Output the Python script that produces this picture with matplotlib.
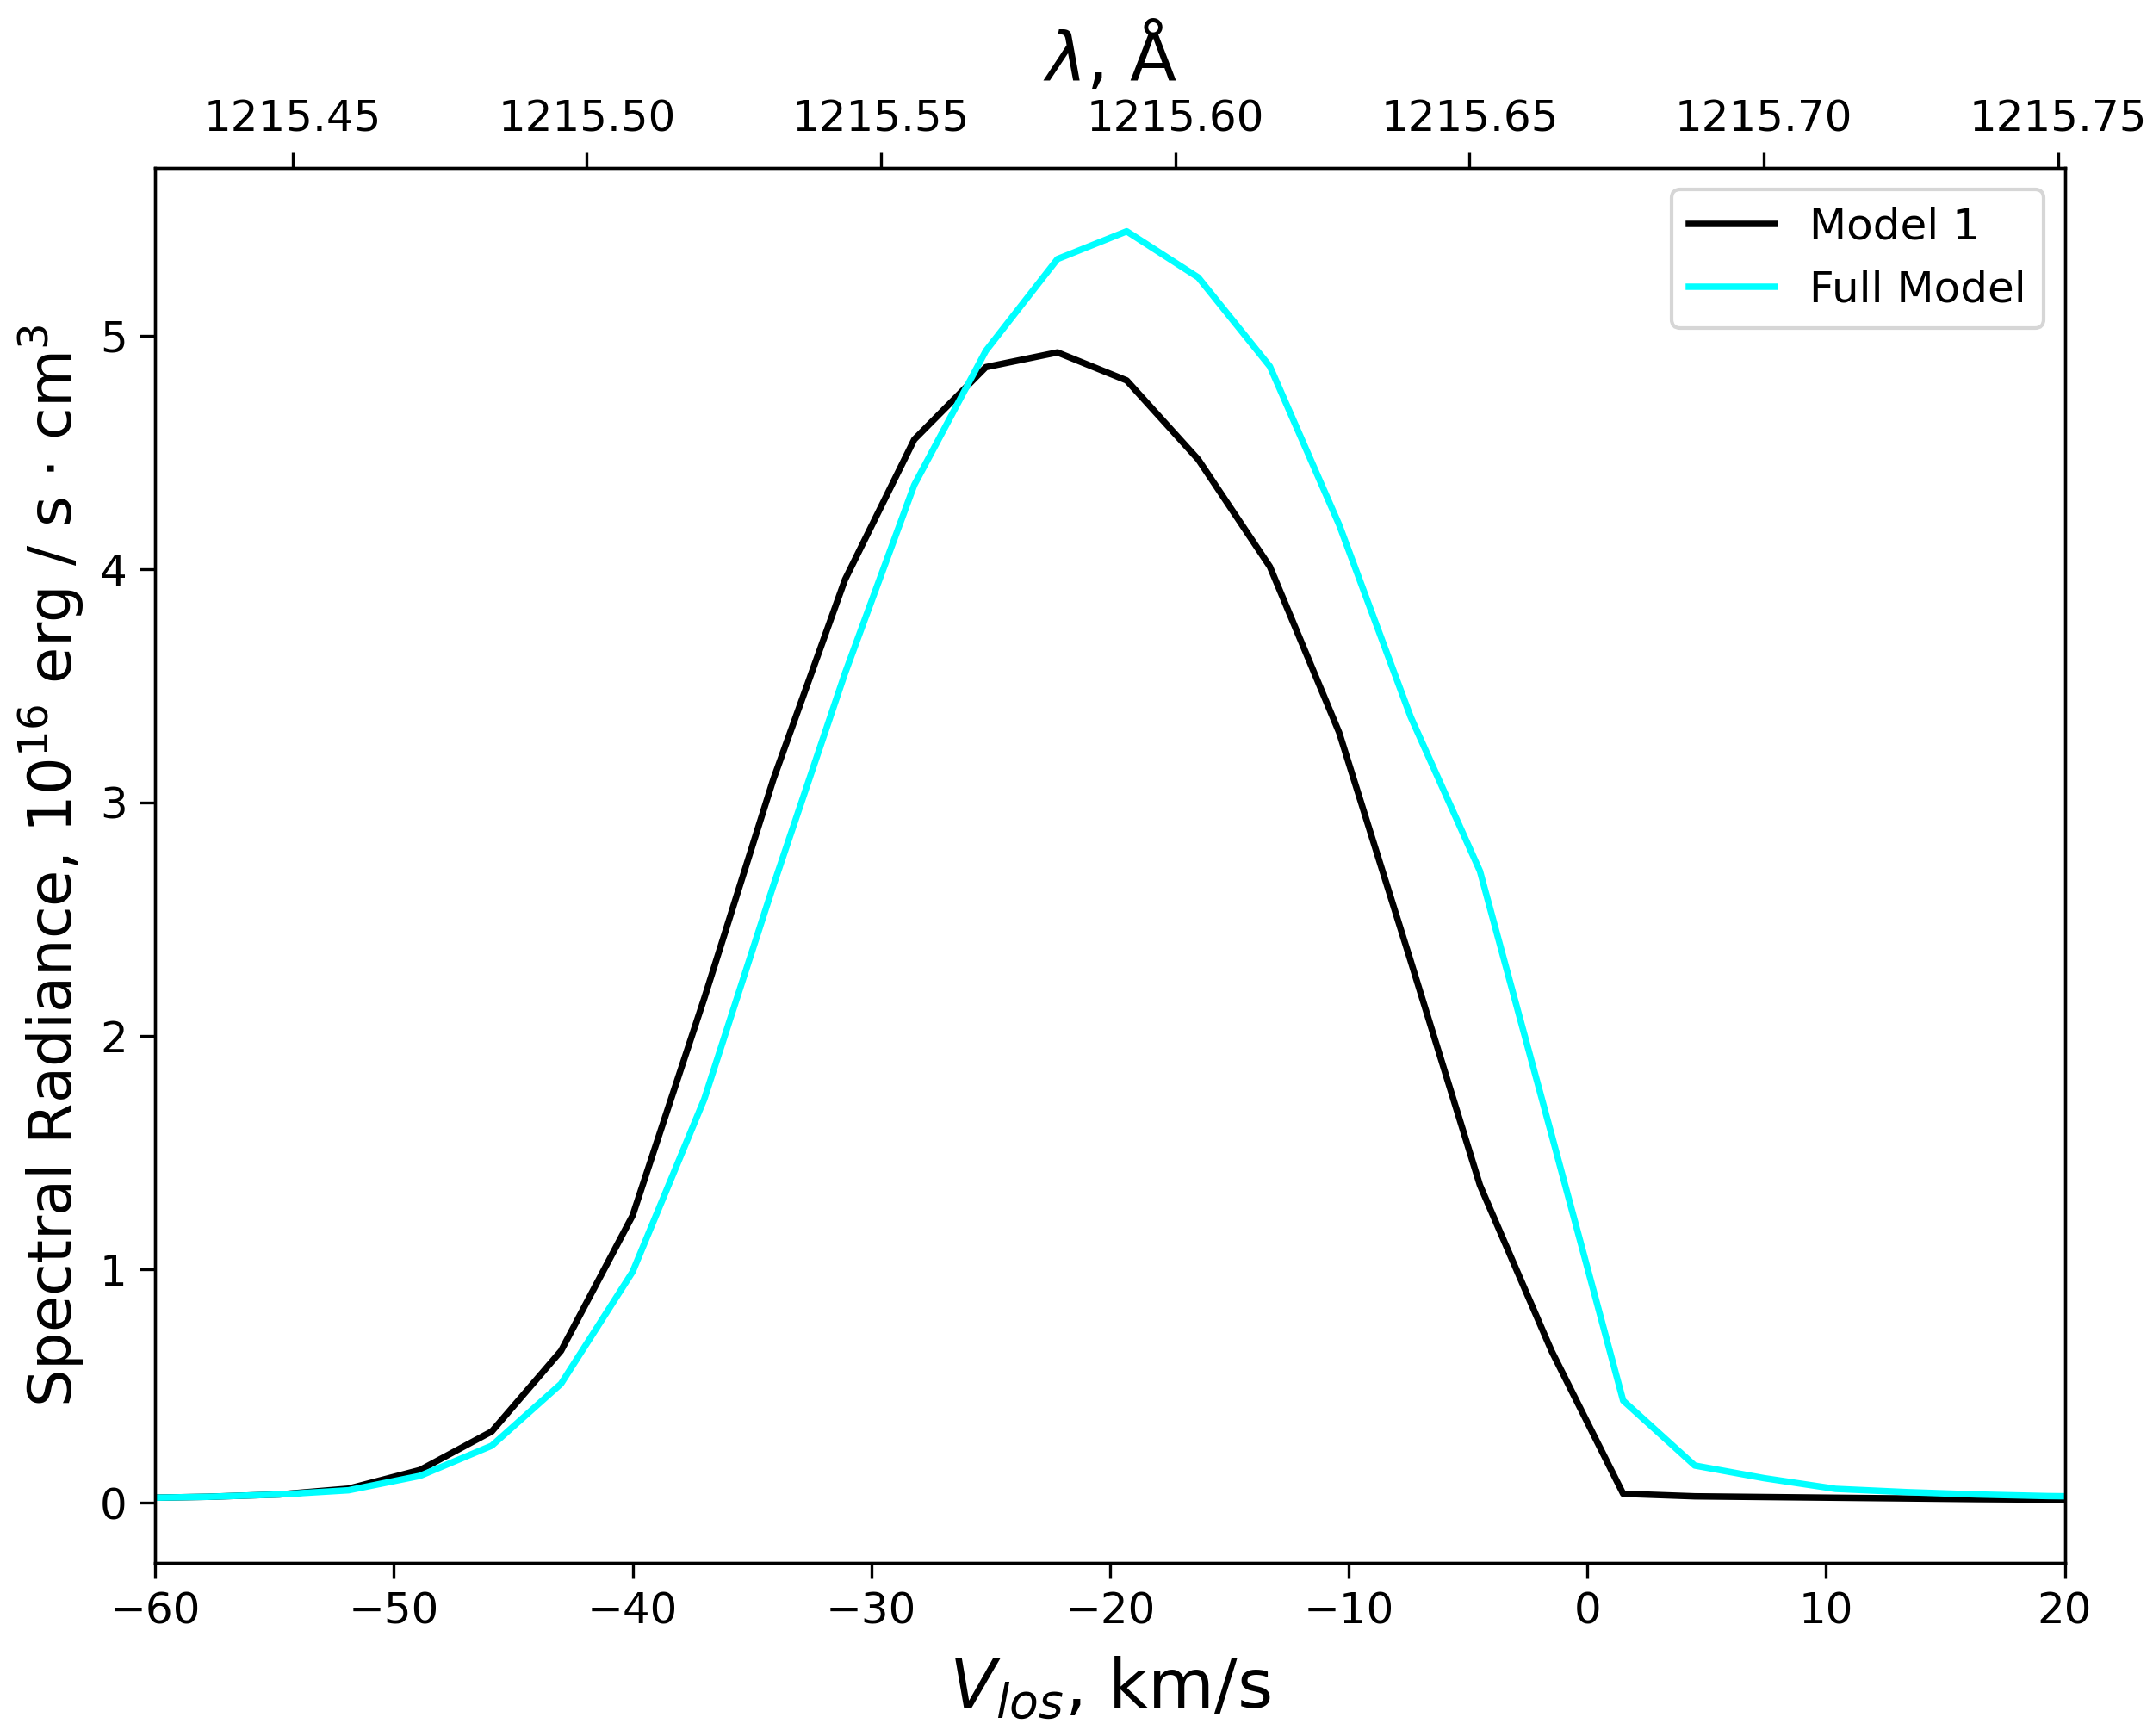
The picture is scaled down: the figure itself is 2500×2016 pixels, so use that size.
import numpy as np
import matplotlib
matplotlib.use('Agg')
import matplotlib.pyplot as plt

# line-of-sight velocity grid, km/s
v_los = [-60.7, -57.8, -54.8, -51.9, -48.9, -45.9, -43.0, -40.0, -37.0, -34.1,
         -31.1, -28.2, -25.2, -22.2, -19.3, -16.3, -13.3, -10.4, -7.4, -4.5,
         -1.5, 1.5, 4.5, 7.4, 10.4, 13.4, 16.3, 19.3, 22.3]

# spectral radiance, 1e16 erg / s cm^3
model_1 = [0.020, 0.025, 0.035, 0.060, 0.140, 0.305, 0.650, 1.230, 2.160, 3.100,
           3.955, 4.555, 4.865, 4.928, 4.808, 4.469, 4.010, 3.300, 2.320, 1.360,
           0.650, 0.038, 0.027, 0.024, 0.021, 0.018, 0.015, 0.013, 0.012]
full_model = [0.020, 0.025, 0.035, 0.053, 0.115, 0.244, 0.509, 0.989, 1.728, 2.645,
              3.554, 4.360, 4.935, 5.328, 5.447, 5.249, 4.868, 4.190, 3.366, 2.706,
              1.577, 0.437, 0.159, 0.105, 0.059, 0.045, 0.035, 0.028, 0.025]

lam0 = 1215.67  # Ly-alpha, Angstrom
c_kms = 299792.458
v_min, v_max = -60, 20


def v_to_lam(v):
    return lam0 * (1 + np.asarray(v) / c_kms)


fig = plt.figure(figsize=(2500 / 300, 2016 / 300), dpi=300)
ax = fig.add_axes([0.0721, 0.0995, 0.959 - 0.0721, 0.9033 - 0.0995])

ax.plot(v_los, model_1, color='black', lw=1.8, label='Model 1')
ax.plot(v_los, full_model, color='cyan', lw=1.8, label='Full Model')
ax.set_xlim(v_min, v_max)
ax.set_xlabel('$V_{los}$, km/s', fontsize=19, labelpad=6)
ax.set_ylabel('Spectral Radiance, $10^{16}$ erg / s $\\cdot$ cm$^3$', fontsize=16.5)
ax.tick_params(labelsize=12, length=4.3)
ax.legend(loc='upper right', fontsize=12)

ax2 = ax.twiny()
ax2.set_xlim(v_to_lam(v_min), v_to_lam(v_max))
ax2.ticklabel_format(axis='x', useOffset=False)
ax2.tick_params(labelsize=12, length=4.3)
ax2.set_xlabel('$\\lambda$, Å', fontsize=19, labelpad=5)

fig.savefig('out.png', dpi=300)
